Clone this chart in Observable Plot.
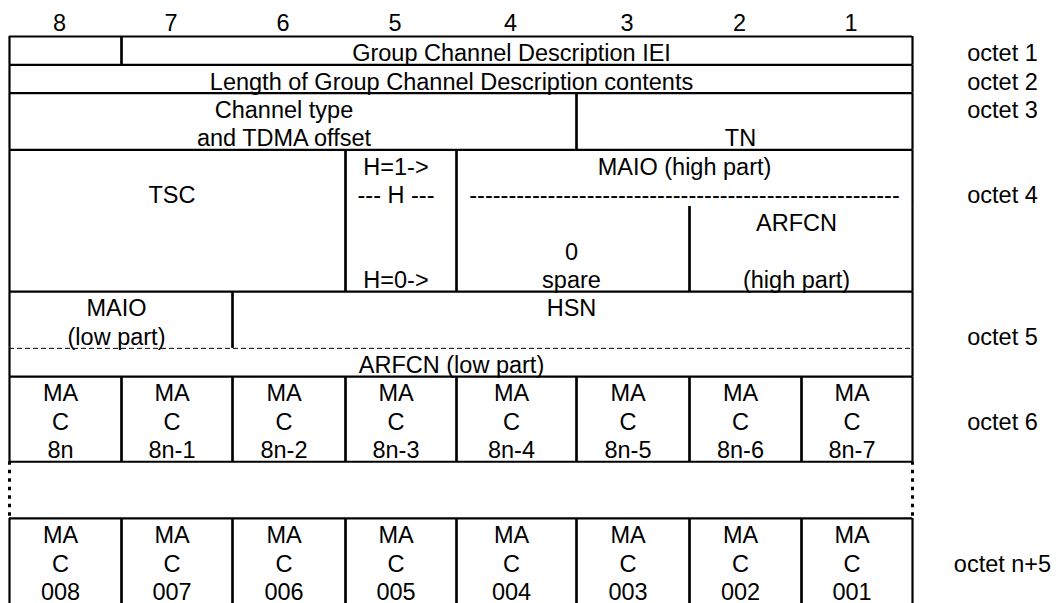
<!DOCTYPE html>
<html>
<head>
<meta charset="utf-8">
<script src="https://cdn.jsdelivr.net/npm/d3@7"></script>
<script src="https://cdn.jsdelivr.net/npm/@observablehq/plot@0.6"></script>
<style>
  html, body { margin: 0; padding: 0; background: #fff; }
  #chart svg { display: block; }
</style>
</head>
<body>
<div id="chart"></div>
<script>
// ---- Data ----
const bitLabels = ["8", "7", "6", "5", "4", "3", "2", "1"];
const octetNames = ["octet 1", "octet 2", "octet 3", "octet 4", "octet 5", "octet 6", "", "octet n+5"];
const octetLineCounts = [1, 1, 2, 5, 3, 3, 2, 3];
const octetLabelLine = [0, 0, 0, 1, 1, 1, 0, 1];
const macFirstRow = ["8n", "8n-1", "8n-2", "8n-3", "8n-4", "8n-5", "8n-6", "8n-7"];
const macLastRow = ["008", "007", "006", "005", "004", "003", "002", "001"];
const dashRun = "-------------------------------------------------------";

const fields = [
  {octet: 0, hi: 8, lo: 8, row: 0, rows: 1, text: []},
  {octet: 0, hi: 7, lo: 1, row: 0, rows: 1, text: ["Group Channel Description IEI"]},
  {octet: 1, hi: 8, lo: 1, row: 0, rows: 1, text: ["Length of Group Channel Description contents"]},
  {octet: 2, hi: 8, lo: 4, row: 0, rows: 2, text: ["Channel type", "and TDMA offset"]},
  {octet: 2, hi: 3, lo: 1, row: 0, rows: 2, text: ["", "TN"]},
  {octet: 3, hi: 8, lo: 6, row: 0, rows: 5, text: ["", "TSC"]},
  {octet: 3, hi: 5, lo: 5, row: 0, rows: 5, text: ["H=1->", "--- H ---", "", "", "H=0->"]},
  {octet: 3, hi: 4, lo: 1, row: 0, rows: 2, text: ["MAIO (high part)", dashRun]},
  {octet: 3, hi: 4, lo: 3, row: 2, rows: 3, text: ["", "0", "spare"]},
  {octet: 3, hi: 2, lo: 1, row: 2, rows: 3, text: ["ARFCN", "", "(high part)"]},
  {octet: 4, hi: 8, lo: 7, row: 0, rows: 2, text: ["MAIO", "(low part)"]},
  {octet: 4, hi: 6, lo: 1, row: 0, rows: 2, text: ["HSN"]},
  {octet: 4, hi: 8, lo: 1, row: 2, rows: 1, text: ["ARFCN (low part)"]},
  ...macFirstRow.map((t, i) => ({octet: 5, hi: 8 - i, lo: 8 - i, row: 0, rows: 3, text: ["MA", "C", t]})),
  ...macLastRow.map((t, i) => ({octet: 7, hi: 8 - i, lo: 8 - i, row: 0, rows: 3, text: ["MA", "C", t]}))
];
const dashedSplit = {octet: 4, row: 2};
const gapOctet = 6;

// ---- Derived tables ----
const octetStart = octetLineCounts.reduce((acc, n, i) => { acc.push(acc[i] + n); return acc; }, [0]);
const totalLines = octetStart[octetStart.length - 1];

const edges = [];
const texts = [];
for (const f of fields) {
  const y1 = octetStart[f.octet] + f.row;
  const y2 = y1 + f.rows;
  const x1 = 8 - f.hi, x2 = 9 - f.lo;
  edges.push({x: x1, y1, y2}, {x: x2, y1, y2});
  f.text.forEach((t, i) => {
    if (t) texts.push({x: (x1 + x2) / 2, y: y1 + i + 0.5, t});
  });
}
const solidRows = octetStart.slice(0, octetStart.length - 1);
const gapTop = octetStart[gapOctet], gapBottom = octetStart[gapOctet + 1];
const borderDotted = [{x: 0}, {x: 8}];
const headers = bitLabels.map((b, i) => ({x: i + 0.5, t: b}));
const octetLabels = octetNames.map((n, i) => ({y: octetStart[i] + octetLabelLine[i] + 0.5, t: n})).filter(d => d.t);

const chart = Plot.plot({
  width: 1059,
  height: 603,
  marginLeft: 9,
  marginRight: 147,
  marginTop: 36,
  marginBottom: 0,
  x: {type: "linear", domain: [0, 1, 2, 3, 4, 5, 6, 7, 8], range: [9, 121, 232, 345, 456, 576, 689, 801, 912], axis: null},
  y: {type: "linear", domain: [0, totalLines], range: [36, 603], axis: null},
  style: {fontFamily: "'Liberation Sans', Arial, sans-serif", fontSize: "23.5px", background: "#fff", color: "#000", overflow: "visible"},
  marks: [
    Plot.ruleY(solidRows, {y: d => d, x1: 0, x2: 8, stroke: "#000", strokeWidth: 2.2}),
    Plot.ruleY([dashedSplit], {y: d => octetStart[d.octet] + d.row, x1: 0, x2: 8, stroke: "#000", strokeWidth: 1, strokeDasharray: "5,3"}),
    Plot.ruleX(edges, {x: "x", y1: "y1", y2: "y2", stroke: "#000", strokeWidth: 2.2}),
    Plot.ruleX(borderDotted, {x: "x", y1: gapTop, y2: gapBottom, stroke: "#000", strokeWidth: 3, strokeDasharray: "3.5,5"}),
    Plot.text(texts, {x: "x", y: "y", text: "t", dx: -5, dy: 3, fill: "#000", fontSize: 23.5}),
    Plot.text(headers, {x: "x", y: -0.5, text: "t", dx: -6, dy: 1, fill: "#000", fontSize: 23.5}),
    Plot.text(octetLabels, {y: "y", text: "t", frameAnchor: "right", textAnchor: "middle", dx: 90, dy: 3, fill: "#000", fontSize: 23.5})
  ]
});
document.getElementById("chart").appendChild(chart);
</script>
</body>
</html>
